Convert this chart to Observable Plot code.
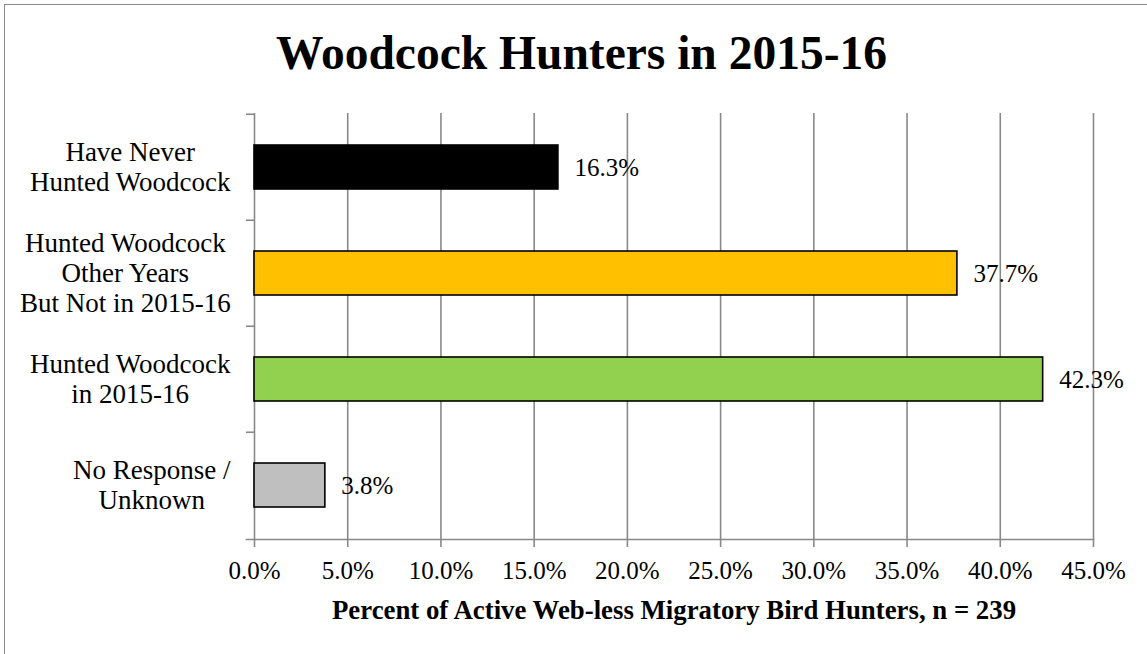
<!DOCTYPE html>
<html>
<head>
<meta charset="utf-8">
<script src="https://cdn.jsdelivr.net/npm/d3@7"></script>
<script src="https://cdn.jsdelivr.net/npm/@observablehq/plot@0.6"></script>
<style>
  html, body { margin: 0; padding: 0; background: #fff; overflow: hidden; }
  #wrap { position: relative; width: 1147px; height: 654px; overflow: hidden; }
  #border { position: absolute; left: 4px; top: 4px; width: 1300px; height: 800px; border: 1.5px solid #8a8a8a; box-sizing: border-box; }
  #title { position: absolute; left: 8px; top: 30px; width: 1147px; text-align: center;
           font-family: "Liberation Serif", "Times New Roman", serif; font-weight: bold; font-size: 47.5px; line-height: 1; }
  #chart { position: absolute; left: 0; top: 0; }
</style>
</head>
<body>
<div id="wrap">
  <div id="border"></div>
  <div id="chart"></div>
  <div id="title">Woodcock Hunters in 2015-16</div>
</div>
<script>
const categories = [
  "Have Never\nHunted Woodcock",
  "Hunted Woodcock\nOther Years\nBut Not in 2015-16",
  "Hunted Woodcock\nin 2015-16",
  "No Response /\nUnknown"
];
const values = [16.3, 37.7, 42.3, 3.8];
const colors = ["#000000", "#FFC000", "#92D050", "#BFBFBF"];
const xTicks = [0, 5, 10, 15, 20, 25, 30, 35, 40, 45];
const xLabel = "Percent of Active Web-less Migratory Bird Hunters, n = 239";

const data = categories.map((c, i) => ({category: c, value: values[i], color: colors[i]}));

const W = 1147, H = 654;
const mTop = 113, mBottom = 115, mLeft = 254, mRight = 54;
const step = (H - mTop - mBottom) / categories.length;
const font = "Liberation Serif, Times New Roman, serif";
const grid = "#898989";

const chart = Plot.plot({
  width: W,
  height: H,
  marginTop: mTop,
  marginBottom: mBottom,
  marginLeft: mLeft,
  marginRight: mRight,
  style: {fontFamily: font, fontSize: "25px", color: "#000", background: "transparent", overflow: "visible"},
  x: {domain: [0, 45], ticks: xTicks, label: null},
  y: {domain: categories, padding: 0, label: null},
  marks: [
    Plot.gridX(xTicks, {stroke: grid, strokeOpacity: 1, strokeWidth: 1.6}),
    Plot.axisX(xTicks, {tickSize: 8, stroke: grid, strokeWidth: 1.6, tickPadding: 14, fontSize: 25,
      tickFormat: d => d.toFixed(1) + "%", label: null, textStroke: "none"}),
    Plot.frame({anchor: "bottom", stroke: grid, strokeWidth: 1.6, insetLeft: -8}),
    Plot.axisY({tickSize: 8, stroke: grid, strokeWidth: 1.6, text: null, label: null, dy: -step / 2}),
    Plot.barX(data, {x: "value", y: "category", fill: "color", stroke: "#000", strokeWidth: 1.6,
      insetTop: 31, insetBottom: 31}),
    Plot.text(data, {x: "value", y: "category", text: d => d.value.toFixed(1) + "%",
      dx: 16, textAnchor: "start", fontSize: 25, fill: "#000"}),
    Plot.text(categories, {y: d => d, text: d => d, frameAnchor: "left", dx: -24, dy: -1,
      textAnchor: "end", fontSize: 27, lineHeight: 1.12, fill: "#000"}),
    Plot.text([xLabel], {text: d => d, frameAnchor: "bottom", dy: 79, fontWeight: "bold",
      fontSize: 26.8, fill: "#000"})
  ]
});

document.getElementById("chart").appendChild(chart);

// center each line of a category label within its block (block right-aligned, like Excel)
const flat = new Set(categories.map(c => c.replace(/\n/g, "")));
chart.querySelectorAll("text").forEach(t => {
  if (!flat.has(t.textContent.replace(/\n/g, ""))) return;
  const b0 = t.getBBox();
  const right = b0.x + b0.width;
  t.setAttribute("text-anchor", "middle");
  t.querySelectorAll("tspan").forEach(s => s.setAttribute("text-anchor", "middle"));
  const b1 = t.getBBox();
  const cx = b1.x + b1.width / 2;
  const target = right - b0.width / 2;
  const tr = t.getAttribute("transform") || "";
  t.setAttribute("transform", (tr + ` translate(${target - cx},0)`).trim());
});
</script>
</body>
</html>
